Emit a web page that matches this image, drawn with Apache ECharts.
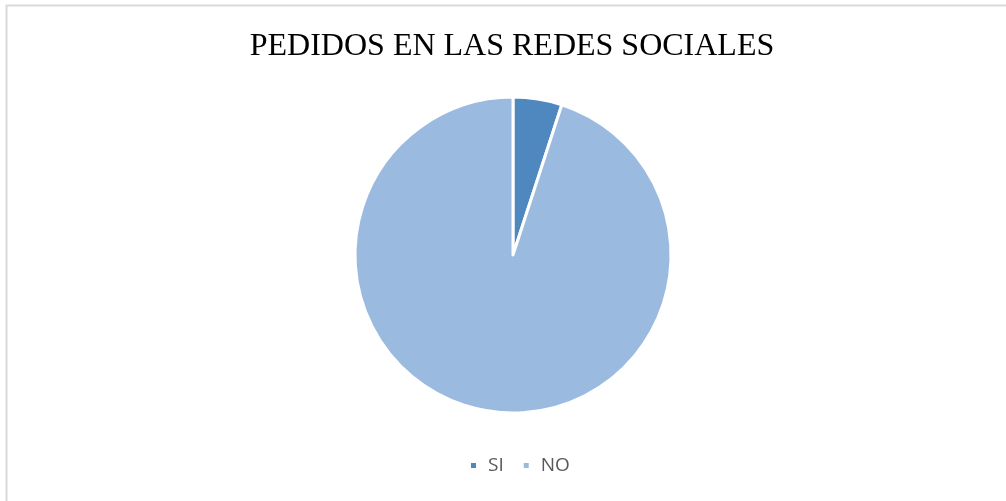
<!DOCTYPE html>
<html>
<head>
<meta charset="utf-8">
<script src="https://cdn.jsdelivr.net/npm/echarts@6/dist/echarts.min.js"></script>
<style>
  html, body { margin: 0; padding: 0; background: #fff; }
  #chart { width: 1006px; height: 501px; }
</style>
</head>
<body>
<div id="chart"></div>
<script>
var categories = ['SI', 'NO'];
var values = [5, 95];
var colors = ['#4f87bf', '#9bbae0'];

var chart = echarts.init(document.getElementById('chart'));
var option = {
    backgroundColor: '#fff',
    animation: false,
    title: {
        text: 'PEDIDOS EN LAS REDES SOCIALES',
        left: 507,
        top: 26,
        textAlign: 'center',
        textStyle: {
            fontFamily: 'Liberation Serif',
            fontWeight: 'normal',
            fontSize: 32,
            color: '#000'
        }
    },
    legend: {
        bottom: 21,
        left: 464,
        icon: 'rect',
        itemWidth: 7,
        itemHeight: 7,
        itemGap: 18,
        textStyle: {
            fontFamily: 'Open Sans',
            fontSize: 19,
            color: '#595959',
            padding: [0, 0, 0, 6]
        },
        data: categories
    },
    graphic: [{
        type: 'rect',
        shape: { x: 6.5, y: 5.5, width: 1020, height: 520 },
        style: { fill: 'none', stroke: '#d9d9d9', lineWidth: 2 },
        silent: true
    }],
    series: [{
        type: 'pie',
        center: [513, 255],
        radius: 158,
        startAngle: 90,
        clockwise: true,
        label: { show: false },
        labelLine: { show: false },
        itemStyle: { borderColor: '#fff', borderWidth: 3 },
        data: categories.map(function (c, i) {
            return { name: c, value: values[i], itemStyle: { color: colors[i] } };
        })
    }]
};
chart.setOption(option);
</script>
</body>
</html>
